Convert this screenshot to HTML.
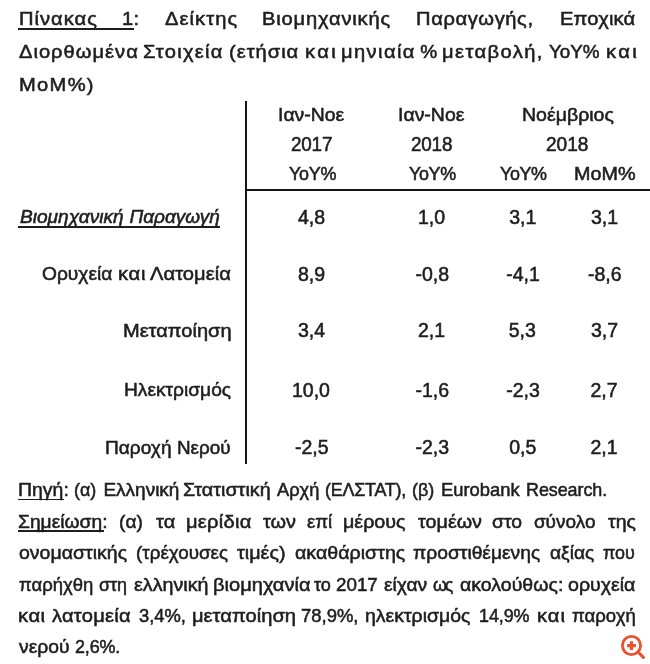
<!DOCTYPE html>
<html><head><meta charset="utf-8"><style>
html,body{margin:0;padding:0;background:#fff;}
body{width:650px;height:664px;position:relative;overflow:hidden;}
#w{position:absolute;left:0;top:0;width:650px;height:664px;filter:blur(0.35px);}
.l{position:absolute;white-space:nowrap;font-family:"Liberation Sans",sans-serif;font-size:19px;line-height:22px;color:#1e1e1e;-webkit-text-stroke:0.55px #1e1e1e;}
.u{position:absolute;height:1.7px;background:#1e1e1e;}
.vl{position:absolute;left:245px;top:101px;width:2px;height:363px;background:#151515;}
.hl{position:absolute;left:245px;top:189px;width:405px;height:2px;background:#151515;}
</style></head><body><div id="w">
<div class="vl"></div><div class="hl"></div>
<div class="l" style="left:18.54px;top:7.92px;letter-spacing:0.94px;transform:scaleX(1.0600);transform-origin:0 0;">Πίνακας</div>
<div class="l" style="left:122.34px;top:7.92px;letter-spacing:0.34px;transform:scaleX(1.0600);transform-origin:0 0;">1:</div>
<div class="l" style="left:164.90px;top:7.92px;letter-spacing:1.00px;transform:scaleX(1.0600);transform-origin:0 0;">Δείκτης</div>
<div class="l" style="left:262.34px;top:7.92px;letter-spacing:0.78px;transform:scaleX(1.0600);transform-origin:0 0;">Βιομηχανικής</div>
<div class="l" style="left:416.44px;top:7.92px;letter-spacing:0.56px;transform:scaleX(1.0600);transform-origin:0 0;">Παραγωγής,</div>
<div class="l" style="left:559.64px;top:7.92px;letter-spacing:0.15px;transform:scaleX(1.0600);transform-origin:0 0;">Εποχικά</div>
<div class="l" style="left:19.40px;top:40.92px;letter-spacing:0.94px;transform:scaleX(1.0600);transform-origin:0 0;">Διορθωμένα</div>
<div class="l" style="left:142.74px;top:40.92px;letter-spacing:1.21px;transform:scaleX(1.0600);transform-origin:0 0;">Στοιχεία</div>
<div class="l" style="left:229.44px;top:40.92px;letter-spacing:0.92px;transform:scaleX(1.0600);transform-origin:0 0;">(ετήσια</div>
<div class="l" style="left:304.84px;top:40.92px;letter-spacing:2.23px;transform:scaleX(1.0600);transform-origin:0 0;">και</div>
<div class="l" style="left:340.94px;top:40.92px;letter-spacing:1.31px;transform:scaleX(1.0600);transform-origin:0 0;">μηνιαία</div>
<div class="l" style="left:420.30px;top:40.92px;">%</div>
<div class="l" style="left:442.34px;top:40.92px;letter-spacing:1.32px;transform:scaleX(1.0600);transform-origin:0 0;">μεταβολή,</div>
<div class="l" style="left:549.40px;top:40.92px;transform:scaleX(0.9902);transform-origin:0 0;">YoY%</div>
<div class="l" style="left:605.74px;top:40.92px;letter-spacing:2.23px;transform:scaleX(1.0600);transform-origin:0 0;">και</div>
<div class="l" style="left:18.94px;top:73.92px;letter-spacing:1.22px;transform:scaleX(1.0600);transform-origin:0 0;">MoM%)</div>
<div class="l" style="left:278.18px;top:103.72px;transform:scaleX(1.0203);transform-origin:0 0;">Ιαν-Νοε</div>
<div class="l" style="left:397.98px;top:103.72px;transform:scaleX(1.0234);transform-origin:0 0;">Ιαν-Νοε</div>
<div class="l" style="left:521.97px;top:103.72px;transform:scaleX(1.0273);transform-origin:0 0;">Νοέμβριος</div>
<div class="l" style="left:290.56px;top:133.07px;letter-spacing:-0.20px;font-size:20px;transform:scaleX(0.9434);transform-origin:0 0;">2017</div>
<div class="l" style="left:411.06px;top:133.07px;letter-spacing:-0.20px;font-size:20px;transform:scaleX(0.9434);transform-origin:0 0;">2018</div>
<div class="l" style="left:545.75px;top:133.07px;font-size:20px;transform:scaleX(0.9535);transform-origin:0 0;">2018</div>
<div class="l" style="left:288.50px;top:162.92px;letter-spacing:-0.22px;transform:scaleX(0.9434);transform-origin:0 0;">YoY%</div>
<div class="l" style="left:409.00px;top:162.92px;letter-spacing:-0.39px;transform:scaleX(0.9434);transform-origin:0 0;">YoY%</div>
<div class="l" style="left:499.90px;top:162.92px;letter-spacing:-0.46px;transform:scaleX(0.9434);transform-origin:0 0;">YoY%</div>
<div class="l" style="left:573.96px;top:162.92px;transform:scaleX(1.0397);transform-origin:0 0;">MoM%</div>
<div class="l" style="left:19.50px;top:205.82px;font-style:italic;transform:scaleX(1.0049);transform-origin:0 0;">Βιομηχανική</div>
<div class="l" style="left:129.50px;top:205.82px;font-style:italic;">Παραγωγή</div>
<div class="l" style="left:42.29px;top:263.32px;transform:scaleX(1.0101);transform-origin:0 0;">Ορυχεία</div>
<div class="l" style="left:118.44px;top:263.32px;letter-spacing:0.67px;transform:scaleX(1.0600);transform-origin:0 0;">και</div>
<div class="l" style="left:150.40px;top:263.32px;letter-spacing:0.03px;transform:scaleX(1.0600);transform-origin:0 0;">Λατομεία</div>
<div class="l" style="left:122.95px;top:319.52px;transform:scaleX(1.0545);transform-origin:0 0;">Μεταποίηση</div>
<div class="l" style="left:123.59px;top:379.22px;transform:scaleX(1.0086);transform-origin:0 0;">Ηλεκτρισμός</div>
<div class="l" style="left:104.59px;top:436.52px;transform:scaleX(1.0063);transform-origin:0 0;">Παροχή</div>
<div class="l" style="left:176.91px;top:436.52px;transform:scaleX(0.9925);transform-origin:0 0;">Νερού</div>
<div class="l" style="left:18.38px;top:478.92px;transform:scaleX(1.0234);transform-origin:0 0;">Πηγή:</div>
<div class="l" style="left:73.96px;top:478.92px;letter-spacing:-0.03px;transform:scaleX(0.9434);transform-origin:0 0;">(α)</div>
<div class="l" style="left:103.40px;top:478.92px;">Ελληνική</div>
<div class="l" style="left:183.46px;top:478.92px;transform:scaleX(1.0398);transform-origin:0 0;">Στατιστική</div>
<div class="l" style="left:277.20px;top:478.92px;transform:scaleX(0.9605);transform-origin:0 0;">Αρχή</div>
<div class="l" style="left:324.96px;top:478.92px;letter-spacing:-0.24px;transform:scaleX(0.9434);transform-origin:0 0;">(ΕΛΣΤΑΤ),</div>
<div class="l" style="left:411.55px;top:478.92px;transform:scaleX(0.9455);transform-origin:0 0;">(β)</div>
<div class="l" style="left:440.63px;top:478.92px;transform:scaleX(0.9667);transform-origin:0 0;">Eurobank</div>
<div class="l" style="left:525.86px;top:478.92px;letter-spacing:-0.07px;transform:scaleX(0.9434);transform-origin:0 0;">Research.</div>
<div class="l" style="left:18.39px;top:511.42px;transform:scaleX(1.0128);transform-origin:0 0;">Σημείωση:</div>
<div class="l" style="left:119.39px;top:511.42px;transform:scaleX(1.0091);transform-origin:0 0;">(α)</div>
<div class="l" style="left:156.00px;top:511.42px;transform:scaleX(1.0556);transform-origin:0 0;">τα</div>
<div class="l" style="left:186.34px;top:511.42px;letter-spacing:0.25px;transform:scaleX(1.0600);transform-origin:0 0;">μερίδια</div>
<div class="l" style="left:262.60px;top:511.42px;transform:scaleX(1.0452);transform-origin:0 0;">των</div>
<div class="l" style="left:307.00px;top:511.42px;transform:scaleX(0.9769);transform-origin:0 0;">επί</div>
<div class="l" style="left:343.36px;top:511.42px;transform:scaleX(1.0373);transform-origin:0 0;">μέρους</div>
<div class="l" style="left:417.60px;top:511.42px;transform:scaleX(1.0393);transform-origin:0 0;">τομέων</div>
<div class="l" style="left:492.20px;top:511.42px;transform:scaleX(1.0172);transform-origin:0 0;">στο</div>
<div class="l" style="left:533.90px;top:511.42px;">σύνολο</div>
<div class="l" style="left:607.70px;top:511.42px;transform:scaleX(1.0259);transform-origin:0 0;">της</div>
<div class="l" style="left:19.40px;top:541.72px;transform:scaleX(1.0267);transform-origin:0 0;">ονομαστικής</div>
<div class="l" style="left:136.01px;top:541.72px;transform:scaleX(0.9913);transform-origin:0 0;">(τρέχουσες</div>
<div class="l" style="left:237.00px;top:541.72px;transform:scaleX(1.0413);transform-origin:0 0;">τιμές)</div>
<div class="l" style="left:294.50px;top:541.72px;transform:scaleX(1.0327);transform-origin:0 0;">ακαθάριστης</div>
<div class="l" style="left:413.20px;top:541.72px;transform:scaleX(1.0127);transform-origin:0 0;">προστιθέμενης</div>
<div class="l" style="left:549.50px;top:541.72px;transform:scaleX(1.0091);transform-origin:0 0;">αξίας</div>
<div class="l" style="left:602.60px;top:541.72px;letter-spacing:-0.09px;transform:scaleX(0.9434);transform-origin:0 0;">που</div>
<div class="l" style="left:19.40px;top:574.12px;transform:scaleX(0.9737);transform-origin:0 0;">παρήχθη</div>
<div class="l" style="left:99.00px;top:574.12px;letter-spacing:-0.08px;transform:scaleX(0.9434);transform-origin:0 0;">στη</div>
<div class="l" style="left:133.60px;top:574.12px;transform:scaleX(1.0366);transform-origin:0 0;">ελληνική</div>
<div class="l" style="left:212.64px;top:574.12px;transform:scaleX(1.0560);transform-origin:0 0;">βιομηχανία</div>
<div class="l" style="left:314.40px;top:574.12px;transform:scaleX(0.9500);transform-origin:0 0;">το</div>
<div class="l" style="left:336.01px;top:574.12px;transform:scaleX(0.9878);transform-origin:0 0;">2017</div>
<div class="l" style="left:383.50px;top:574.12px;transform:scaleX(1.0116);transform-origin:0 0;">είχαν</div>
<div class="l" style="left:433.00px;top:574.12px;letter-spacing:-2.48px;transform:scaleX(0.9434);transform-origin:0 0;">ως</div>
<div class="l" style="left:460.20px;top:574.12px;transform:scaleX(1.0283);transform-origin:0 0;">ακολούθως:</div>
<div class="l" style="left:568.20px;top:574.12px;transform:scaleX(1.0308);transform-origin:0 0;">ορυχεία</div>
<div class="l" style="left:18.34px;top:605.32px;letter-spacing:0.53px;transform:scaleX(1.0600);transform-origin:0 0;">και</div>
<div class="l" style="left:51.80px;top:605.32px;letter-spacing:0.22px;transform:scaleX(1.0600);transform-origin:0 0;">λατομεία</div>
<div class="l" style="left:139.00px;top:605.32px;transform:scaleX(0.9660);transform-origin:0 0;">3,4%,</div>
<div class="l" style="left:191.64px;top:605.32px;transform:scaleX(1.0600);transform-origin:0 0;">μεταποίηση</div>
<div class="l" style="left:300.93px;top:605.32px;transform:scaleX(0.9702);transform-origin:0 0;">78,9%,</div>
<div class="l" style="left:365.38px;top:605.32px;transform:scaleX(1.0235);transform-origin:0 0;">ηλεκτρισμός</div>
<div class="l" style="left:479.06px;top:605.32px;letter-spacing:-0.08px;transform:scaleX(0.9434);transform-origin:0 0;">14,9%</div>
<div class="l" style="left:536.94px;top:605.32px;letter-spacing:0.91px;transform:scaleX(1.0600);transform-origin:0 0;">και</div>
<div class="l" style="left:571.70px;top:605.32px;transform:scaleX(0.9769);transform-origin:0 0;">παροχή</div>
<div class="l" style="left:19.40px;top:635.52px;transform:scaleX(1.0163);transform-origin:0 0;">νερού</div>
<div class="l" style="left:75.26px;top:635.52px;letter-spacing:-0.16px;transform:scaleX(0.9434);transform-origin:0 0;">2,6%.</div>
<div class="l" style="left:298.00px;top:205.64px;font-size:19.5px;">4,8</div>
<div class="l" style="left:418.00px;top:205.64px;font-size:19.5px;">1,0</div>
<div class="l" style="left:509.20px;top:205.64px;font-size:19.5px;">3,1</div>
<div class="l" style="left:591.00px;top:205.64px;font-size:19.5px;">3,1</div>
<div class="l" style="left:298.00px;top:263.14px;font-size:19.5px;">8,9</div>
<div class="l" style="left:415.50px;top:263.14px;font-size:19.5px;">-0,8</div>
<div class="l" style="left:506.20px;top:263.14px;font-size:19.5px;">-4,1</div>
<div class="l" style="left:588.00px;top:263.14px;font-size:19.5px;">-8,6</div>
<div class="l" style="left:298.00px;top:319.34px;font-size:19.5px;">3,4</div>
<div class="l" style="left:418.00px;top:319.34px;font-size:19.5px;">2,1</div>
<div class="l" style="left:508.70px;top:319.34px;font-size:19.5px;">5,3</div>
<div class="l" style="left:591.00px;top:319.34px;font-size:19.5px;">3,7</div>
<div class="l" style="left:292.00px;top:379.04px;font-size:19.5px;">10,0</div>
<div class="l" style="left:415.50px;top:379.04px;font-size:19.5px;">-1,6</div>
<div class="l" style="left:506.20px;top:379.04px;font-size:19.5px;">-2,3</div>
<div class="l" style="left:590.50px;top:379.04px;font-size:19.5px;">2,7</div>
<div class="l" style="left:295.00px;top:436.34px;font-size:19.5px;">-2,5</div>
<div class="l" style="left:415.50px;top:436.34px;font-size:19.5px;">-2,3</div>
<div class="l" style="left:509.20px;top:436.34px;font-size:19.5px;">0,5</div>
<div class="l" style="left:590.50px;top:436.34px;font-size:19.5px;">2,1</div>
<div class="u" style="left:17.8px;top:28.2px;width:115.8px"></div><div class="u" style="left:18px;top:226.3px;width:201.5px"></div><div class="u" style="left:17.8px;top:498.7px;width:46.4px"></div><div class="u" style="left:17.8px;top:530.2px;width:86.2px"></div>
<svg style="position:absolute;left:618px;top:632px" width="32" height="32" viewBox="0 0 32 32">
<circle cx="13.5" cy="13.5" r="9.1" fill="none" stroke="#e8532d" stroke-width="2.8"/>
<path d="M13.5 9.2v8.8M9.1 13.6h8.8" stroke="#e8532d" stroke-width="3.3"/>
<path d="M20 20l5.4 5.4" stroke="#e8532d" stroke-width="3" stroke-linecap="round"/>
</svg>
</div></body></html>
